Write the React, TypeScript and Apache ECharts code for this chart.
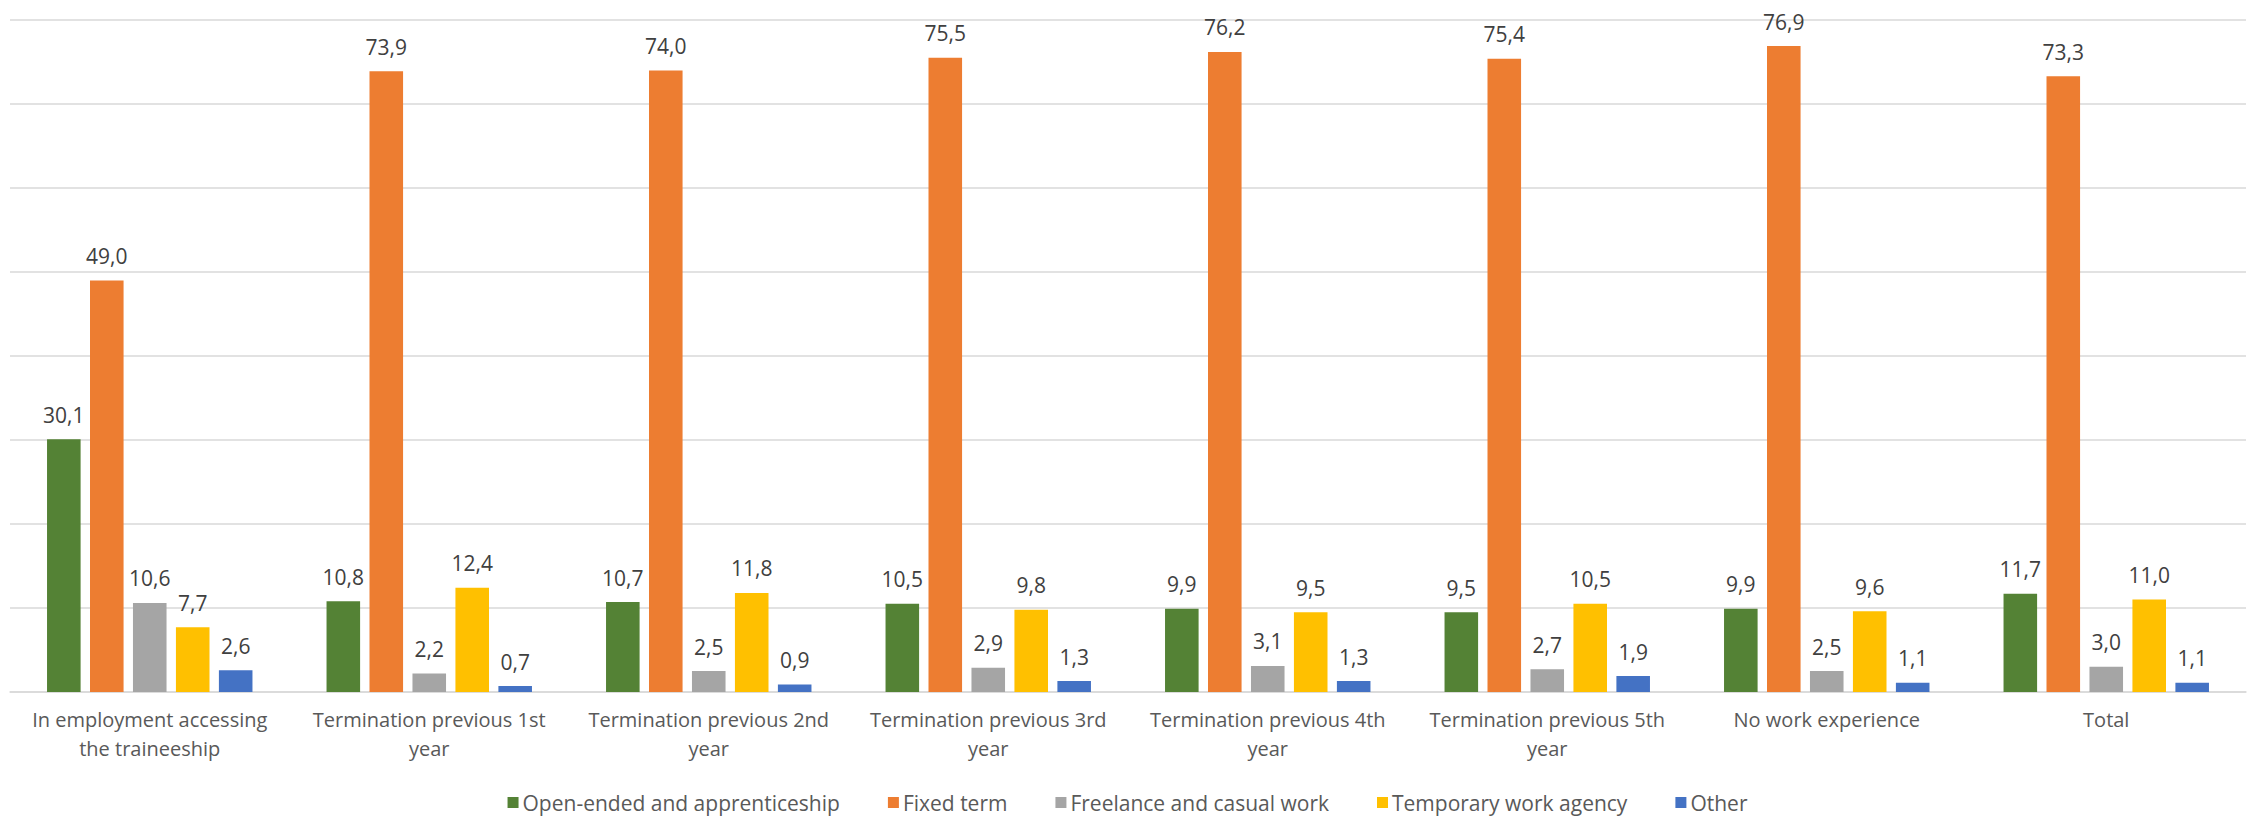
import React, { useEffect, useRef } from "react";
import * as echarts from "echarts";

const categories = [
  "In employment accessing\nthe traineeship",
  "Termination previous 1st\nyear",
  "Termination previous 2nd\nyear",
  "Termination previous 3rd\nyear",
  "Termination previous 4th\nyear",
  "Termination previous 5th\nyear",
  "No work experience",
  "Total",
];

const seriesNames = [
  "Open-ended and apprenticeship",
  "Fixed term",
  "Freelance and casual work",
  "Temporary work agency",
  "Other",
];

const openEnded = [30.1, 10.8, 10.7, 10.5, 9.9, 9.5, 9.9, 11.7];
const fixedTerm = [49.0, 73.9, 74.0, 75.5, 76.2, 75.4, 76.9, 73.3];
const freelance = [10.6, 2.2, 2.5, 2.9, 3.1, 2.7, 2.5, 3.0];
const tempAgency = [7.7, 12.4, 11.8, 9.8, 9.5, 10.5, 9.6, 11.0];
const other = [2.6, 0.7, 0.9, 1.3, 1.3, 1.9, 1.1, 1.1];

const colors = ["#548235", "#ED7D31", "#A5A5A5", "#FFC000", "#4472C4"];

const FONT = "'Open Sans', 'Noto Sans', sans-serif";

export default function App() {
  const ref = useRef<HTMLDivElement>(null);

  useEffect(() => {
    if (!ref.current) return;
    const chart = echarts.init(ref.current, null, { renderer: "svg" });
    const allData = [openEnded, fixedTerm, freelance, tempAgency, other];
    chart.setOption({
      animation: false,
      textStyle: { fontFamily: FONT },
      grid: { left: 10, right: 9, top: 20, bottom: 127, containLabel: false },
      legend: {
        data: seriesNames,
        bottom: 1,
        left: "center",
        itemWidth: 11,
        itemHeight: 11,
        itemGap: 48,
        icon: "rect",
        textStyle: { fontSize: 21, color: "#595959", fontFamily: FONT, padding: [0, 0, 0, -1] },
      },
      xAxis: {
        type: "category",
        data: categories,
        axisLine: { lineStyle: { color: "#D9D9D9", width: 1.5 } },
        axisTick: { show: false },
        axisLabel: {
          fontSize: 20,
          color: "#595959",
          lineHeight: 29,
          margin: 13,
          interval: 0,
          fontFamily: FONT,
        },
      },
      yAxis: {
        type: "value",
        min: 0,
        max: 80,
        interval: 10,
        axisLabel: { show: false },
        axisLine: { show: false },
        axisTick: { show: false },
        splitLine: { lineStyle: { color: "#D9D9D9", width: 1.5 } },
      },
      series: seriesNames.map((name, i) => ({
        name,
        type: "bar",
        data: allData[i],
        barGap: "28%",
        barCategoryGap: "26.5%",
        itemStyle: { color: colors[i] },
        label: {
          show: true,
          position: "top",
          distance: 14,
          fontSize: 21,
          color: "#404040",
          fontFamily: FONT,
          formatter: (p: any) => Number(p.value).toFixed(1).replace(".", ","),
        },
      })),
    });
    return () => chart.dispose();
  }, []);

  return (
    <div
      ref={ref}
      style={{ position: "absolute", left: 0, top: 0, width: 2255, height: 819, background: "#fff" }}
    />
  );
}
